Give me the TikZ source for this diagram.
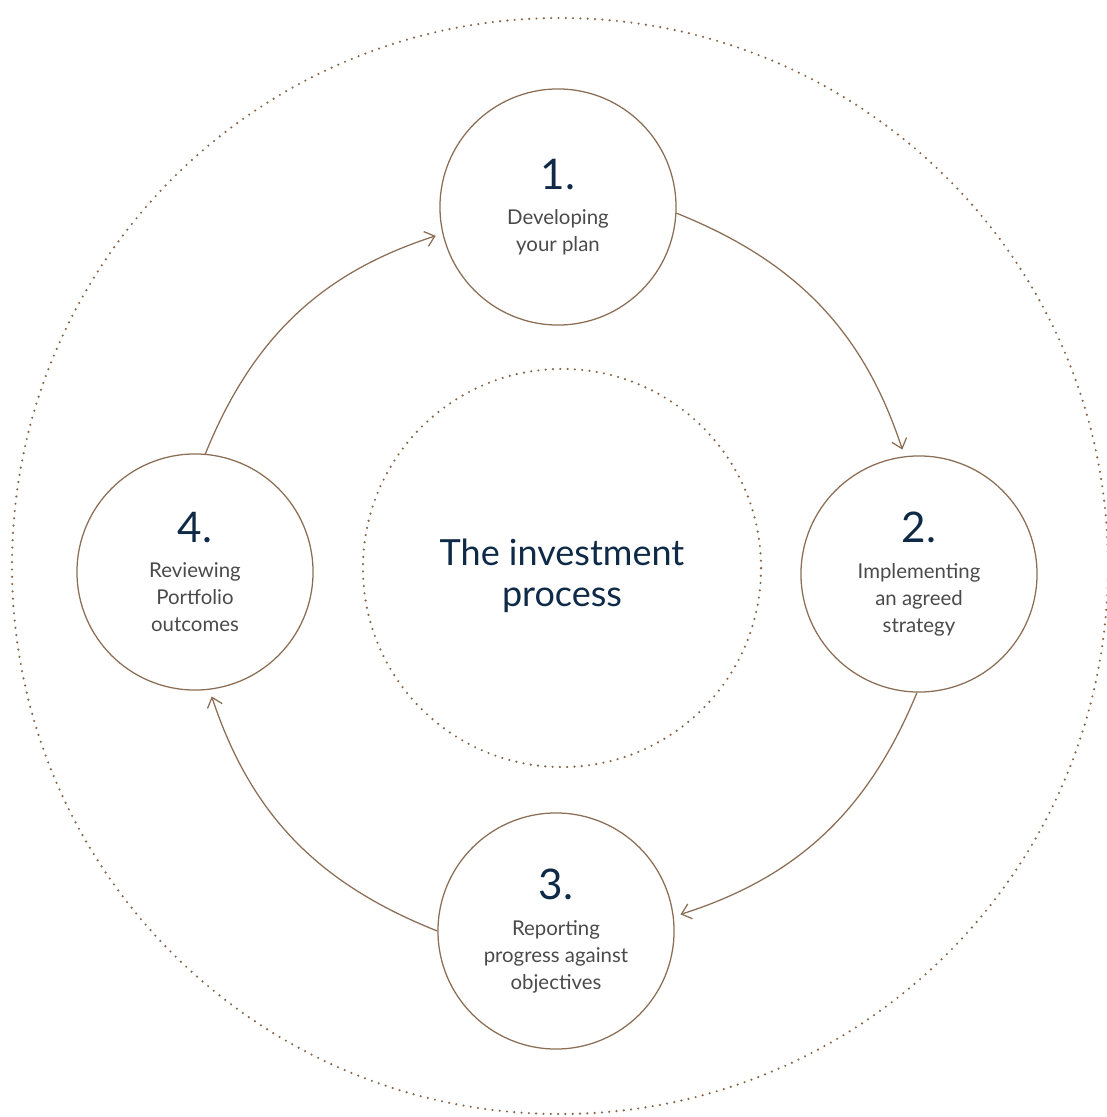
\documentclass[tikz,border=0pt]{standalone}
\usepackage{fontspec}
\setmainfont{Lato}
\usetikzlibrary{arrows.meta}
\definecolor{brownline}{HTML}{8B6E55}
\definecolor{dotbrown}{HTML}{86664A}
\definecolor{navytext}{HTML}{0E2A47}
\definecolor{greytext}{HTML}{4A4A4A}
\newcommand{\stepnum}[1]{{\fontsize{30}{30}\selectfont\color{navytext}#1}}

\begin{document}
\begin{tikzpicture}[x=0.025cm,y=-0.025cm,>={Straight Barb[length=6.5pt,width=11pt]},
	stepcircle/.style={circle,draw=brownline,line width=0.9pt,minimum size=5.9cm,inner sep=0pt,
		align=center,text=greytext,font=\fontsize{14.5}{19.2}\selectfont},
	dotring/.style={draw=dotbrown,line width=1.7pt,line cap=round,dash pattern=on 0pt off 5.2pt},
	flow/.style={->,draw=brownline,line width=0.9pt,bend left=25,shorten >=5pt}]
	\useasboundingbox (0,0) rectangle (1106,1117);
	
	\draw[dotring] (560,566) circle[radius=548];
	\node[dotring,circle,minimum size=9.95cm] (core) at (562,568) {};
	\node[align=center,text=navytext,font=\fontsize{25.6}{29}\selectfont] (title) at (562,576) {The investment\\process};
	
	\node[stepcircle] (s1) at (558,207) {\stepnum{1.}\\[6pt]Developing\\your plan};
	\node[stepcircle] (s2) at (919,574) {\stepnum{2.}\\[6pt]Implementing\\an agreed\\strategy};
	\node[stepcircle] (s3) at (556,931) {\stepnum{3.}\\[6pt]Reporting\\progress against\\objectives};
	\node[stepcircle] (s4) at (195,572) {\stepnum{4.}\\[6pt]Reviewing\\Portfolio\\outcomes};
	
	\path (s1.-3) edge[flow] (s2.97)
		  (s2.-91) edge[flow] (s3.7)
		  (s3.180) edge[flow] (s4.-83)
		  (s4.85) edge[flow] (s1.193);
\end{tikzpicture}
\end{document}
